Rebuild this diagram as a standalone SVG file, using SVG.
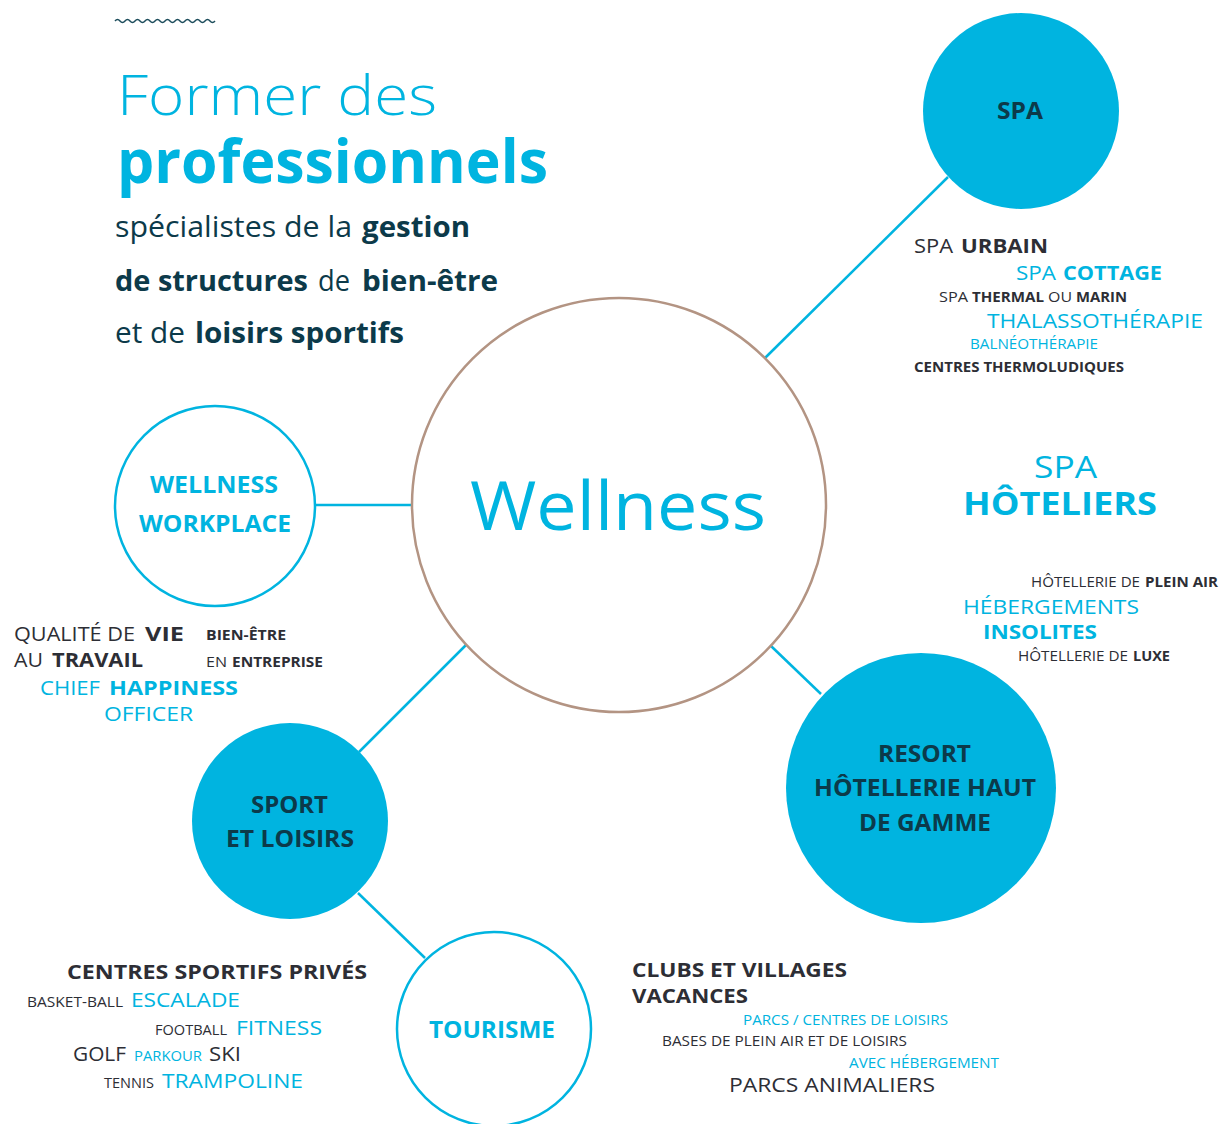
<svg xmlns="http://www.w3.org/2000/svg" width="1225" height="1124" viewBox="0 0 1225 1124">
<style>
text{font-family:"Open Sans","Noto Sans","DejaVu Sans",sans-serif;}
.c{fill:#00b4e0}.d{fill:#2d2e35}.t{fill:#0c3a4a}
.b{font-weight:700}.r{font-weight:400}.l{font-weight:300}
.s{font-size:14.5px}.m{font-size:20px}.n{font-size:23px}.x{font-size:29px}
.conn{stroke:#00b4e0;stroke-width:2.5;fill:none}
.ring{fill:#fff;stroke:#00b4e0;stroke-width:2.5}
.disc{fill:#00b4e0}
</style>
<rect width="1225" height="1124" fill="#fff"/>
<path d="M115,21 q2.5,-3 5,0 t5,0 t5,0 t5,0 t5,0 t5,0 t5,0 t5,0 t5,0 t5,0 t5,0 t5,0 t5,0 t5,0 t5,0 t5,0 t5,0 t5,0 t5,0 t5,0" fill="none" stroke="#1d4d5c" stroke-width="1.5"/>
<g id="title">
<text x="117" y="115" class="c l" font-size="56" textLength="320" lengthAdjust="spacingAndGlyphs">Former des</text>
<text x="117" y="183" class="c b" font-size="60" textLength="431" lengthAdjust="spacingAndGlyphs">professionnels</text>
<text x="115" y="237" class="t r x" textLength="237" lengthAdjust="spacingAndGlyphs">spécialistes de la</text>
<text x="362" y="237" class="t b x" textLength="108" lengthAdjust="spacingAndGlyphs">gestion</text>
<text x="115" y="291" class="t b x" textLength="193" lengthAdjust="spacingAndGlyphs">de structures</text>
<text x="318" y="291" class="t r x" textLength="32" lengthAdjust="spacingAndGlyphs">de</text>
<text x="362" y="291" class="t b x" textLength="136" lengthAdjust="spacingAndGlyphs">bien-être</text>
<text x="115" y="343" class="t r x" textLength="70" lengthAdjust="spacingAndGlyphs">et de</text>
<text x="195" y="343" class="t b x" textLength="209" lengthAdjust="spacingAndGlyphs">loisirs sportifs</text>
</g>
<g id="connectors">
<line class="conn" x1="948" y1="177" x2="765" y2="358"/>
<line class="conn" x1="316" y1="505" x2="412" y2="505"/>
<line class="conn" x1="771" y1="646" x2="821" y2="694"/>
<line class="conn" x1="466" y1="645" x2="359" y2="752"/>
<line class="conn" x1="358" y1="893" x2="425" y2="958"/>
</g>
<g id="wellness">
<circle cx="619" cy="505" r="207" fill="#fff" stroke="#b39483" stroke-width="2.5"/>
<text x="470" y="530" class="c r" font-size="68" textLength="296" lengthAdjust="spacingAndGlyphs">Wellness</text>
</g>
<g id="spa">
<circle class="disc" cx="1021" cy="111" r="98"/>
<text x="997" y="119" class="t b n" textLength="46" lengthAdjust="spacingAndGlyphs">SPA</text>
</g>
<g id="workplace">
<circle class="ring" cx="215" cy="506" r="100"/>
<text x="150" y="493" class="c b n" textLength="128" lengthAdjust="spacingAndGlyphs">WELLNESS</text>
<text x="139" y="532" class="c b n" textLength="152" lengthAdjust="spacingAndGlyphs">WORKPLACE</text>
</g>
<g id="resort">
<circle class="disc" cx="921" cy="788" r="135"/>
<text x="878" y="762" class="t b n" textLength="93" lengthAdjust="spacingAndGlyphs">RESORT</text>
<text x="814" y="796" class="t b n" textLength="222" lengthAdjust="spacingAndGlyphs">HÔTELLERIE HAUT</text>
<text x="859" y="831" class="t b n" textLength="132" lengthAdjust="spacingAndGlyphs">DE GAMME</text>
</g>
<g id="sport">
<circle class="disc" cx="290" cy="821" r="98"/>
<text x="251" y="813" class="t b n" textLength="77" lengthAdjust="spacingAndGlyphs">SPORT</text>
<text x="226" y="847" class="t b n" textLength="128" lengthAdjust="spacingAndGlyphs">ET LOISIRS</text>
</g>
<g id="tourisme">
<circle class="ring" cx="494" cy="1029" r="97"/>
<text x="429" y="1038" class="c b n" textLength="126" lengthAdjust="spacingAndGlyphs">TOURISME</text>
</g>
<g id="spa-list">
<text x="914" y="253" class="d r m" textLength="39" lengthAdjust="spacingAndGlyphs">SPA</text>
<text x="961" y="253" class="d b m" textLength="87" lengthAdjust="spacingAndGlyphs">URBAIN</text>
<text x="1016" y="280" class="c r m" textLength="40" lengthAdjust="spacingAndGlyphs">SPA</text>
<text x="1063" y="280" class="c b m" textLength="99" lengthAdjust="spacingAndGlyphs">COTTAGE</text>
<text x="939" y="302" class="d r s" textLength="29" lengthAdjust="spacingAndGlyphs">SPA</text>
<text x="972" y="302" class="d b s" textLength="72" lengthAdjust="spacingAndGlyphs">THERMAL</text>
<text x="1048" y="302" class="d r s" textLength="24" lengthAdjust="spacingAndGlyphs">OU</text>
<text x="1076" y="302" class="d b s" textLength="51" lengthAdjust="spacingAndGlyphs">MARIN</text>
<text x="987" y="328" class="c r m" textLength="216" lengthAdjust="spacingAndGlyphs">THALASSOTHÉRAPIE</text>
<text x="970" y="349" class="c r s" textLength="128" lengthAdjust="spacingAndGlyphs">BALNÉOTHÉRAPIE</text>
<text x="914" y="372" class="d b s" textLength="210" lengthAdjust="spacingAndGlyphs">CENTRES THERMOLUDIQUES</text>
</g>
<g id="hotel-list">
<text x="1034" y="478" class="c r" font-size="31" textLength="63" lengthAdjust="spacingAndGlyphs">SPA</text>
<text x="963" y="515" class="c b" font-size="33" textLength="194" lengthAdjust="spacingAndGlyphs">HÔTELIERS</text>
<text x="1031" y="587" class="d r s" textLength="109" lengthAdjust="spacingAndGlyphs">HÔTELLERIE DE</text>
<text x="1145" y="587" class="d b s" textLength="73" lengthAdjust="spacingAndGlyphs">PLEIN AIR</text>
<text x="963" y="614" class="c r m" textLength="176" lengthAdjust="spacingAndGlyphs">HÉBERGEMENTS</text>
<text x="983" y="639" class="c b m" textLength="114" lengthAdjust="spacingAndGlyphs">INSOLITES</text>
<text x="1018" y="661" class="d r s" textLength="110" lengthAdjust="spacingAndGlyphs">HÔTELLERIE DE</text>
<text x="1133" y="661" class="d b s" textLength="37" lengthAdjust="spacingAndGlyphs">LUXE</text>
</g>
<g id="workplace-list">
<text x="14" y="641" class="d r m" textLength="121" lengthAdjust="spacingAndGlyphs">QUALITÉ DE</text>
<text x="145" y="641" class="d b m" textLength="39" lengthAdjust="spacingAndGlyphs">VIE</text>
<text x="14" y="667" class="d r m" textLength="29" lengthAdjust="spacingAndGlyphs">AU</text>
<text x="52" y="667" class="d b m" textLength="91" lengthAdjust="spacingAndGlyphs">TRAVAIL</text>
<text x="206" y="640" class="d b s" textLength="80" lengthAdjust="spacingAndGlyphs">BIEN-ÊTRE</text>
<text x="206" y="667" class="d r s" textLength="21" lengthAdjust="spacingAndGlyphs">EN</text>
<text x="232" y="667" class="d b s" textLength="91" lengthAdjust="spacingAndGlyphs">ENTREPRISE</text>
<text x="40" y="695" class="c r m" textLength="60" lengthAdjust="spacingAndGlyphs">CHIEF</text>
<text x="109" y="695" class="c b m" textLength="129" lengthAdjust="spacingAndGlyphs">HAPPINESS</text>
<text x="104" y="721" class="c r m" textLength="89" lengthAdjust="spacingAndGlyphs">OFFICER</text>
</g>
<g id="sport-list">
<text x="67" y="979" class="d b m" textLength="300" lengthAdjust="spacingAndGlyphs">CENTRES SPORTIFS PRIVÉS</text>
<text x="27" y="1007" class="d r s" textLength="96" lengthAdjust="spacingAndGlyphs">BASKET-BALL</text>
<text x="131" y="1007" class="c r m" textLength="109" lengthAdjust="spacingAndGlyphs">ESCALADE</text>
<text x="155" y="1035" class="d r s" textLength="72" lengthAdjust="spacingAndGlyphs">FOOTBALL</text>
<text x="236" y="1035" class="c r m" textLength="86" lengthAdjust="spacingAndGlyphs">FITNESS</text>
<text x="73" y="1061" class="d r m" textLength="53" lengthAdjust="spacingAndGlyphs">GOLF</text>
<text x="134" y="1061" class="c r s" textLength="68" lengthAdjust="spacingAndGlyphs">PARKOUR</text>
<text x="209" y="1061" class="d r m" textLength="32" lengthAdjust="spacingAndGlyphs">SKI</text>
<text x="104" y="1088" class="d r s" textLength="50" lengthAdjust="spacingAndGlyphs">TENNIS</text>
<text x="162" y="1088" class="c r m" textLength="141" lengthAdjust="spacingAndGlyphs">TRAMPOLINE</text>
</g>
<g id="tourisme-list">
<text x="632" y="977" class="d b m" textLength="215" lengthAdjust="spacingAndGlyphs">CLUBS ET VILLAGES</text>
<text x="632" y="1003" class="d b m" textLength="116" lengthAdjust="spacingAndGlyphs">VACANCES</text>
<text x="743" y="1025" class="c r s" textLength="205" lengthAdjust="spacingAndGlyphs">PARCS / CENTRES DE LOISIRS</text>
<text x="662" y="1046" class="d r s" textLength="245" lengthAdjust="spacingAndGlyphs">BASES DE PLEIN AIR ET DE LOISIRS</text>
<text x="849" y="1068" class="c r s" textLength="150" lengthAdjust="spacingAndGlyphs">AVEC HÉBERGEMENT</text>
<text x="729" y="1092" class="d r m" textLength="206" lengthAdjust="spacingAndGlyphs">PARCS ANIMALIERS</text>
</g>
</svg>
